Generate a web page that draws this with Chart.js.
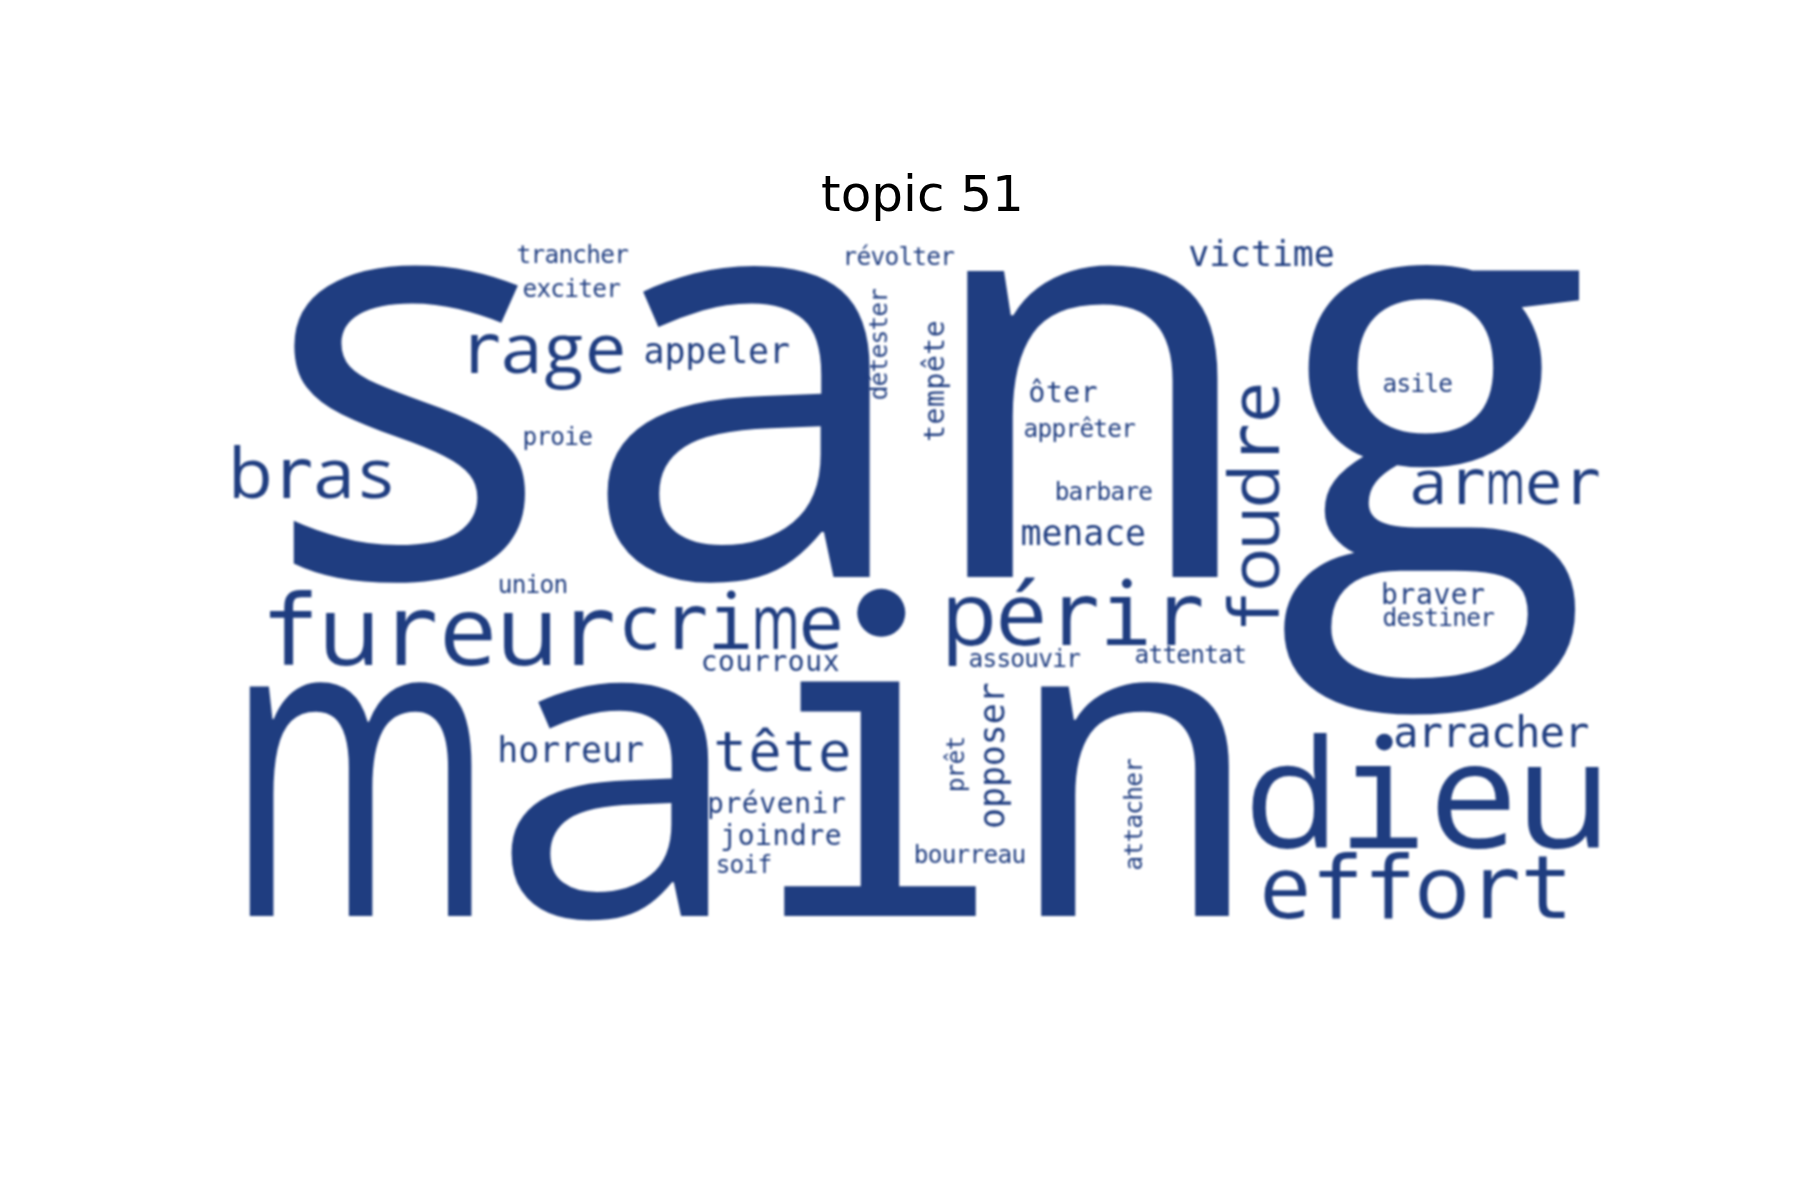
<!DOCTYPE html>
<html>
<head>
<meta charset="utf-8">
<script src="https://cdn.jsdelivr.net/npm/chart.js@4.4.0/dist/chart.umd.min.js"></script>
<style>
  html, body { margin: 0; padding: 0; background: #ffffff; }
  #wrap { width: 1800px; height: 1200px; position: relative; }
</style>
</head>
<body>
<div id="wrap"><canvas id="c" width="1800" height="1200"></canvas></div>
<script>
// Word cloud for "topic 51" (cloud canvas units: 400 x 200)
const words = ["sang","main","dieu","effort","fureur","crime","périr","rage","bras","armer",
  "tête","arracher","victime","menace","appeler","horreur","ôter","courroux","prévenir","joindre",
  "braver","trancher","exciter","révolter","proie","union","apprêter","barbare","asile","assouvir",
  "attentat","destiner","bourreau","soif","foudre","tempête","détester","opposer","prêt","attacher"];
const weights = [164,123,43,25,28,22,25,20,20,18,
  16,12,10,10,10,10,8,8,8,8,
  8,7,7,7,7,7,7,7,7,7,
  7,7,7,7,20,8,7,10,7,7];
const xs = [3.4,1.7,292.9,296.5,10.2,112.4,205.8,67.1,1.3,339.6,
  139.8,335.1,276.2,228.1,120.0,78.1,230.3,136.3,138.1,141.9,
  331.4,83.7,85.4,177.2,85.4,78.3,229.1,238.0,332.0,213.3,
  260.9,332.0,197.6,140.8,302.2,206.2,189.8,223.4,211.9,262.9];
const ys = [98.1,195.3,175.8,195.8,123.3,118.7,117.6,39.6,75.4,77.1,
  153.7,146.8,8.9,88.9,36.7,151.1,47.9,125.0,165.7,174.9,
  105.8,8.0,17.8,8.6,60.2,102.7,57.9,76.0,45.0,123.9,
  122.7,112.1,180.1,182.9,114.0,59.4,47.3,170.3,159.7,182.1];
const vertical = [0,0,0,0,0,0,0,0,0,0,
  0,0,0,0,0,0,0,0,0,0,
  0,0,0,0,0,0,0,0,0,0,
  0,0,0,0,1,1,1,1,1,1];
const titleText = "topic 51";
const wordColor = "#1f3d80";

const MONO = "'DejaVu Sans Mono'";
const SANS = "'Open Sans'";
const monoChars = "fijlrt";
const stretch = { a: 1.07, n: 0.98, s: 1.06, g: 1.015 };

function drawWord(ctx, text, size, unit) {
  const em = size * unit;
  const cell = Math.round(0.6 * size) * unit;
  const big = size >= 16;
  [...text].forEach((ch, k) => {
    const cx = k * cell + cell / 2;
    const useMono = !big || monoChars.includes(ch);
    ctx.save();
    ctx.translate(cx, 0);
    if (ch === "i" && big) {
      ctx.font = em.toFixed(2) + "px " + MONO;
      const w = ctx.measureText("ı").width;
      ctx.fillText("ı", -w / 2, 0);
      ctx.beginPath();
      ctx.arc(0.012 * em, -0.707 * em, 0.056 * em, 0, Math.PI * 2);
      ctx.fill();
    } else {
      ctx.font = em.toFixed(2) + "px " + (useMono ? MONO : SANS);
      const w = ctx.measureText(ch).width;
      let sx = 1;
      if (!useMono) sx = (ch === "m") ? (0.63 * em) / w : (stretch[ch] || 1.05);
      ctx.scale(sx, 1);
      ctx.fillText(ch, -w / 2, 0);
    }
    ctx.restore();
  });
}

const wordPlugin = {
  id: "wordDraw",
  afterDatasetsDraw(chart) {
    const ctx = chart.ctx;
    const xScale = chart.scales.x;
    const meta = chart.getDatasetMeta(0);
    const unit = xScale.getPixelForValue(1) - xScale.getPixelForValue(0);
    ctx.save();
    ctx.fillStyle = wordColor;
    ctx.textAlign = "left";
    ctx.textBaseline = "alphabetic";
    ctx.filter = "blur(1.2px)";
    meta.data.forEach((el, i) => {
      ctx.save();
      ctx.translate(el.x, el.y);
      if (vertical[i]) ctx.rotate(-Math.PI / 2);
      drawWord(ctx, words[i], weights[i], unit);
      ctx.restore();
    });
    ctx.restore();
  }
};

new Chart(document.getElementById("c"), {
  type: "scatter",
  data: {
    datasets: [{
      data: words.map((w, i) => ({ x: xs[i], y: ys[i] })),
      pointRadius: 0,
      pointHoverRadius: 0
    }]
  },
  options: {
    responsive: false,
    devicePixelRatio: 1,
    animation: false,
    events: [],
    layout: { padding: { left: 225, right: 180, top: 0, bottom: 267.5 } },
    plugins: {
      legend: { display: false },
      tooltip: { enabled: false },
      title: {
        display: true,
        text: titleText,
        color: "#000000",
        font: { family: "'DejaVu Sans'", size: 50, weight: "normal", lineHeight: 1.2 },
        padding: { top: 168, bottom: 7 }
      }
    },
    scales: {
      x: { type: "linear", min: 0, max: 400, display: false },
      y: { type: "linear", min: 0, max: 200, reverse: true, display: false }
    }
  },
  plugins: [wordPlugin]
});
</script>
</body>
</html>
